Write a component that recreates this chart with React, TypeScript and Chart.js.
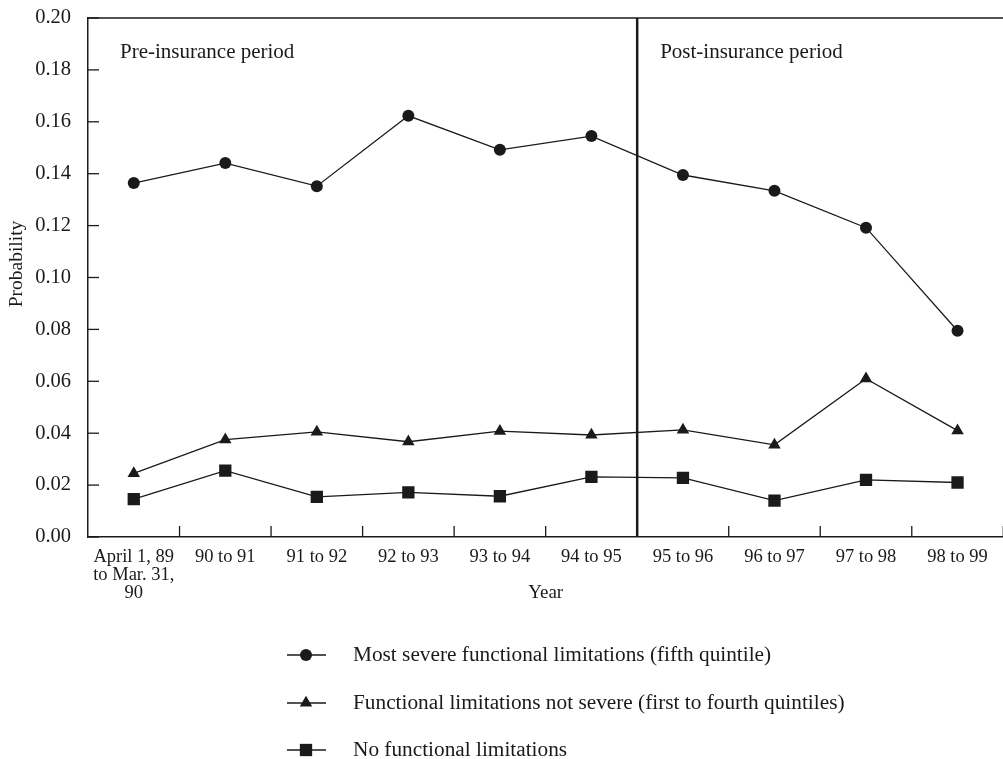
import React, { useEffect, useRef } from 'react';
import { Chart, registerables } from 'chart.js';

Chart.register(...registerables);

const categories: (string | string[])[] = [
  ['April 1, 89', 'to Mar. 31,', '90'],
  '90 to 91',
  '91 to 92',
  '92 to 93',
  '93 to 94',
  '94 to 95',
  '95 to 96',
  '96 to 97',
  '97 to 98',
  '98 to 99',
];

const severeValues = [0.1364, 0.1441, 0.1352, 0.1623, 0.1492, 0.1545, 0.1395, 0.1334, 0.1192, 0.0795];
const notSevereValues = [0.0245, 0.0375, 0.0405, 0.0367, 0.0408, 0.0393, 0.0413, 0.0355, 0.0610, 0.0410];
const noneValues = [0.0146, 0.0256, 0.0155, 0.0172, 0.0157, 0.0232, 0.0228, 0.0140, 0.0220, 0.0210];

const seriesLabels = [
  'Most severe functional limitations (fifth quintile)',
  'Functional limitations not severe (first to fourth quintiles)',
  'No functional limitations',
];

const yTicksMin = 0;
const yTicksMax = 0.2;
const yTicksStep = 0.02;
const periodLabels = ['Pre-insurance period', 'Post-insurance period'];
const xTitle = 'Year';
const yTitle = 'Probability';

const INK = '#1a1a1a';
const FONT = '"Liberation Serif", "Times New Roman", serif';

function drawMarker(ctx: CanvasRenderingContext2D, style: string, r: number, x: number, y: number) {
  ctx.beginPath();
  if (style === 'circle') {
    ctx.arc(x, y, r, 0, Math.PI * 2);
  } else if (style === 'triangle') {
    for (let k = 0; k < 3; k++) {
      const a = (k * 2 * Math.PI) / 3;
      const px = x + Math.sin(a) * r;
      const py = y - Math.cos(a) * r;
      if (k === 0) ctx.moveTo(px, py);
      else ctx.lineTo(px, py);
    }
    ctx.closePath();
  } else {
    const s = Math.SQRT1_2 * r;
    ctx.rect(x - s, y - s, 2 * s, 2 * s);
  }
  ctx.fill();
}

const decorPlugin = {
  id: 'decor',
  afterDraw(chart: any) {
    const { ctx, chartArea } = chart;
    const xs = chart.scales.x;
    const ys = chart.scales.y;
    const { left, top, bottom } = chartArea;
    ctx.save();
    ctx.strokeStyle = INK;
    ctx.fillStyle = INK;

    // top border
    ctx.lineWidth = 1.5;
    ctx.beginPath();
    ctx.moveTo(left, top);
    ctx.lineTo(chart.width, top);
    ctx.stroke();

    // inward y ticks
    ctx.lineWidth = 1.3;
    ys.ticks.forEach((t: any) => {
      const y = ys.getPixelForValue(t.value);
      ctx.beginPath();
      ctx.moveTo(left, y);
      ctx.lineTo(left + 11, y);
      ctx.stroke();
    });

    // inward x ticks at category boundaries
    const n = categories.length;
    const step = xs.getPixelForValue(1) - xs.getPixelForValue(0);
    for (let i = 0; i < n; i++) {
      const x = xs.getPixelForValue(i) + step / 2;
      ctx.beginPath();
      ctx.moveTo(x, bottom);
      ctx.lineTo(x, bottom - 11);
      ctx.stroke();
    }

    // separator between periods (between 94 to 95 and 95 to 96)
    const sepX = xs.getPixelForValue(5) + step / 2;
    ctx.lineWidth = 2.5;
    ctx.beginPath();
    ctx.moveTo(sepX, top);
    ctx.lineTo(sepX, bottom);
    ctx.stroke();

    // period labels
    ctx.font = `21px ${FONT}`;
    ctx.textBaseline = 'middle';
    ctx.textAlign = 'left';
    ctx.fillText(periodLabels[0], left + 32, top + 34);
    ctx.fillText(periodLabels[1], sepX + 23, top + 34);

    // axis titles
    ctx.font = `19px ${FONT}`;
    ctx.textAlign = 'center';
    ctx.fillText(xTitle, (chartArea.left + chartArea.right) / 2, bottom + 56);
    ctx.save();
    ctx.translate(17, 264);
    ctx.rotate(-Math.PI / 2);
    ctx.font = `19.5px ${FONT}`;
    ctx.fillText(yTitle, 0, 0);
    ctx.restore();

    // legend
    ctx.font = `21.3px ${FONT}`;
    ctx.textAlign = 'left';
    const lx0 = 287;
    const lx1 = 326;
    const mx = 306;
    const tx = 353;
    const rows = [655, 703, 750];
    chart.data.datasets.forEach((ds: any, i: number) => {
      const y = rows[i];
      ctx.lineWidth = 1.3;
      ctx.beginPath();
      ctx.moveTo(lx0, y);
      ctx.lineTo(lx1, y);
      ctx.stroke();
      drawMarker(ctx, ds.pointStyle, ds.pointRadius, mx, y);
      ctx.fillText(seriesLabels[i], tx, y);
    });
    ctx.restore();
  },
};

export default function App() {
  const ref = useRef<HTMLCanvasElement | null>(null);
  useEffect(() => {
    if (!ref.current) return;
    const mk = (data: number[], style: string, r: number, label: string) => ({
      label,
      data,
      borderColor: INK,
      borderWidth: 1.3,
      backgroundColor: INK,
      pointStyle: style,
      pointRadius: r,
      pointBackgroundColor: INK,
      pointBorderColor: INK,
      pointBorderWidth: 0,
      tension: 0,
    });
    const chart = new Chart(ref.current, {
      type: 'line',
      data: {
        labels: categories as any,
        datasets: [
          mk(severeValues, 'circle', 6, seriesLabels[0]),
          mk(notSevereValues, 'triangle', 7.2, seriesLabels[1]),
          mk(noneValues, 'rect', 8.7, seriesLabels[2]),
        ] as any,
      },
      options: {
        animation: false,
        responsive: false,
        devicePixelRatio: 1,
        layout: { padding: { left: 0, top: 18, right: 4, bottom: 147 } },
        plugins: { legend: { display: false }, tooltip: { enabled: false } },
        scales: {
          x: {
            type: 'category',
            offset: true,
            grid: { display: false, drawTicks: false, offset: true },
            border: { display: true, color: INK, width: 1.5 },
            ticks: {
              autoSkip: false,
              maxRotation: 0,
              minRotation: 0,
              padding: 11,
              color: INK,
              font: { family: FONT, size: 18.5, lineHeight: 0.98 },
            },
            title: { display: false },
            afterFit: (s: any) => {
              s.height = 75;
            },
          },
          y: {
            min: yTicksMin,
            max: yTicksMax,
            grid: { display: false, drawTicks: false },
            border: { display: true, color: INK, width: 1.5 },
            ticks: {
              stepSize: yTicksStep,
              padding: 17,
              color: INK,
              font: { family: FONT, size: 20.5 },
              callback: (v: any) => Number(v).toFixed(2),
            },
            title: { display: false },
            afterFit: (s: any) => {
              s.width = 88;
              s.paddingTop = 0;
              s.paddingBottom = 0;
            },
          },
        },
      },
      plugins: [decorPlugin],
    });
    return () => chart.destroy();
  }, []);

  return (
    <div
      style={{
        position: 'fixed',
        left: 0,
        top: 0,
        width: 1003,
        height: 759,
        overflow: 'hidden',
        background: '#fff',
      }}
    >
      <canvas ref={ref} width={1012} height={759} style={{ display: 'block' }} />
    </div>
  );
}
